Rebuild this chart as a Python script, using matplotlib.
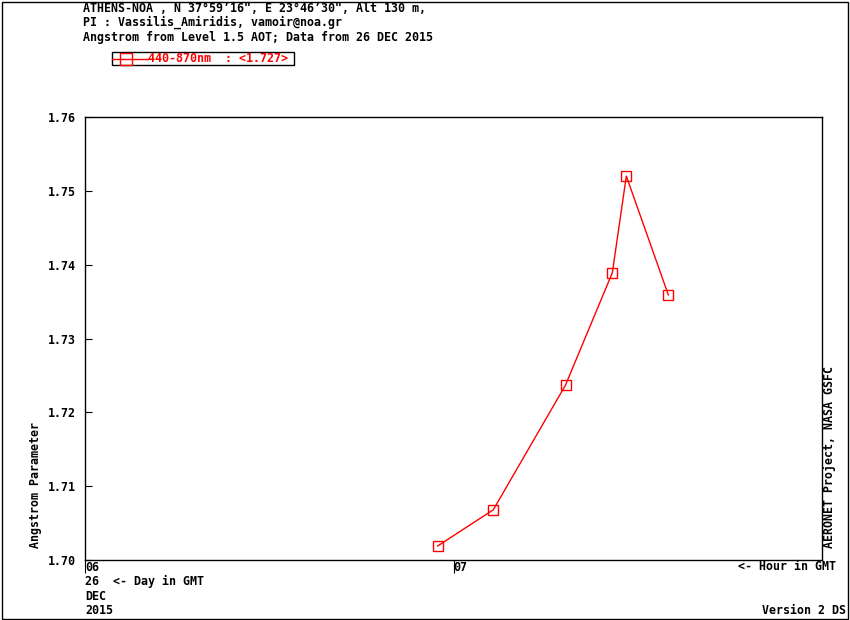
import numpy as np
import matplotlib
matplotlib.use('Agg')
import matplotlib.pyplot as plt
from matplotlib.lines import Line2D
from matplotlib.patches import Rectangle

config = {'font.family': 'DejaVu Sans Mono', 'font.weight': 'bold', 'font.size': 8.4,
          'axes.linewidth': 1.0, 'xtick.labelsize': 8.4, 'ytick.labelsize': 8.4}
plt.rcParams.update(config)

# data: hour in GMT (26 DEC 2015) and 440-870nm Angstrom parameter
hours = [6.957, 7.108, 7.304, 7.431, 7.469, 7.583]
angstrom = [1.7019, 1.7068, 1.7237, 1.7389, 1.7520, 1.7359]
xtick_pos = [6, 7]
xtick_lab = ['06', '07']
ytick_pos = [1.70, 1.71, 1.72, 1.73, 1.74, 1.75, 1.76]

header = ['ATHENS-NOA , N 37\u00b059\u201916", E 23\u00b046\u201930", Alt 130 m,',
          'PI : Vassilis_Amiridis, vamoir@noa.gr',
          'Angstrom from Level 1.5 AOT; Data from 26 DEC 2015']
series_name = '440-870nm'

red = '#ff0000'
W, H = 850, 620

fig = plt.figure(figsize=(8.5, 6.2), dpi=100)
ax = fig.add_axes([85 / W, 1 - 560 / H, 737 / W, 443 / H])

ax.plot(hours, angstrom, color=red, lw=1.0, marker='s', ms=6.5, mfc='none',
        mec=red, mew=1.0)

ax.set_xlim(6, 8)
ax.set_ylim(1.70, 1.76)
ax.set_yticks(ytick_pos)
ax.set_yticklabels(['%.2f' % v for v in ytick_pos])
ax.set_xticks(xtick_pos)
ax.set_xticklabels(xtick_lab, ha='left')
ax.tick_params(axis='y', direction='in', length=5, pad=6.5, left=True, right=False)
ax.tick_params(axis='x', direction='out', length=9, pad=-8.5, bottom=True, top=False)

# header lines
for i, line in enumerate(header):
    fig.text(83 / W, 1 - (8 + i * 14.5) / H, line, ha='left', va='center')

# legend box
fig.add_artist(Rectangle((112 / W, 1 - 65 / H), 182 / W, 13 / H, transform=fig.transFigure,
                         fill=False, ec='black', lw=1.0))
fig.add_artist(Line2D([112 / W, 148 / W], [1 - 58.5 / H, 1 - 58.5 / H], transform=fig.transFigure,
                      color=red, lw=1.0))
fig.add_artist(Line2D([126 / W], [1 - 58.5 / H], transform=fig.transFigure, color=red,
                      marker='s', ms=9, mfc='none', mec=red, mew=1.0))
fig.text(148 / W, 1 - 58.5 / H, '%s  : <%.3f>' % (series_name, np.mean(angstrom)),
         color=red, ha='left', va='center')

# axis annotations
fig.text(35 / W, 1 - 548 / H, 'Angstrom Parameter', rotation=90, ha='center', va='bottom')
fig.text(830 / W, 1 - 548 / H, 'AERONET Project, NASA GSFC', rotation=90, ha='center', va='bottom')
fig.text(836 / W, 1 - 567 / H, '<- Hour in GMT', ha='right', va='center')
fig.text(85 / W, 1 - 581 / H, '26  <- Day in GMT', ha='left', va='center')
fig.text(85 / W, 1 - 597 / H, 'DEC', ha='left', va='center')
fig.text(85 / W, 1 - 611 / H, '2015', ha='left', va='center')
fig.text(846 / W, 1 - 611 / H, 'Version 2 DS', ha='right', va='center')

# outer frame
fig.add_artist(Rectangle((1.5 / W, 1.5 / H), (W - 3.5) / W, (H - 3) / H, transform=fig.transFigure,
                         fill=False, ec='black', lw=1.0))

fig.savefig('out.png', dpi=100)
